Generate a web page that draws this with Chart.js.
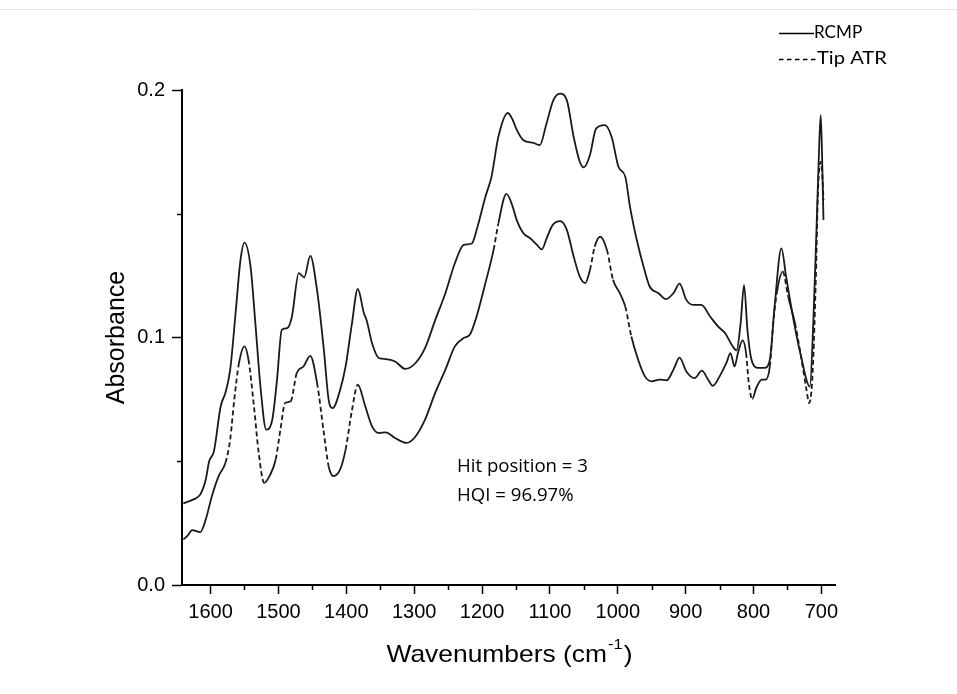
<!DOCTYPE html>
<html>
<head>
<meta charset="utf-8">
<script src="https://cdn.jsdelivr.net/npm/chart.js@4/dist/chart.umd.min.js"></script>
<style>
  html, body { margin: 0; padding: 0; background: #ffffff; }
  #c { display: block; }
</style>
</head>
<body>
<canvas id="c" width="957" height="694" style="width:957px;height:694px"></canvas>
<script>
// ---- DATA ----
const rcmpWavenumbers = [1640,1625,1615,1607,1602,1595,1585,1578,1571,1563,1556,1550,1541,1534,1526,1518,1509,1502,1495,1487,1480,1470,1462,1453,1443,1433,1426,1420,1409,1401,1392,1383,1374,1370,1362,1352,1342,1328,1313,1298,1284,1269,1254,1240,1227,1215,1208,1195,1186,1176,1162,1155,1149,1139,1124,1115,1105,1095,1085,1075,1065,1056,1050,1041,1032,1019,1009,999,989,982,972,962,953,940,929,918,909,899,889,877,864,852,842,832,825,819,814,809,803,793,784,776,769,759,752,742,730,717,712,707,703,701,699,697];
const rcmpAbsorbance = [0.0330,0.0346,0.0366,0.0426,0.0500,0.0540,0.0722,0.0777,0.0870,0.1100,0.1310,0.1383,0.1286,0.1060,0.0789,0.0628,0.0668,0.0830,0.1031,0.1038,0.1085,0.1260,0.1243,0.1330,0.1190,0.0950,0.0749,0.0715,0.0789,0.0883,0.1050,0.1196,0.1098,0.1070,0.0977,0.0917,0.0913,0.0903,0.0873,0.0897,0.0957,0.1070,0.1179,0.1300,0.1374,0.1380,0.1434,0.1569,0.1650,0.1810,0.1907,0.1880,0.1840,0.1797,0.1786,0.1777,0.1865,0.1958,0.1985,0.1958,0.1810,0.1710,0.1687,0.1737,0.1844,0.1858,0.1810,0.1690,0.1650,0.1528,0.1394,0.1286,0.1206,0.1179,0.1155,0.1179,0.1218,0.1152,0.1132,0.1132,0.1085,0.1044,0.1018,0.0970,0.0948,0.1058,0.1212,0.1031,0.0910,0.0877,0.0877,0.0910,0.1125,0.1360,0.1246,0.1085,0.0923,0.0802,0.1058,0.1460,0.1797,0.1898,0.1730,0.1475];

const tipWavenumbers = [1640,1634,1627,1615,1607,1598,1588,1578,1571,1565,1558,1550,1544,1536,1529,1521,1512,1504,1497,1490,1482,1473,1463,1453,1443,1433,1426,1419,1409,1401,1392,1383,1372,1362,1352,1342,1328,1311,1298,1284,1269,1254,1240,1227,1218,1208,1195,1183,1176,1164,1155,1149,1139,1129,1119,1112,1104,1096,1085,1075,1065,1056,1048,1041,1034,1026,1016,1007,997,989,980,970,960,950,938,928,918,909,899,887,876,867,860,850,840,834,828,823,816,811,807,802,796,788,782,776,771,765,757,749,739,730,722,718,713,708,705,701,698,697];
const tipAbsorbance = [0.0184,0.0198,0.0222,0.0214,0.0265,0.0359,0.0440,0.0494,0.0588,0.0749,0.0897,0.0964,0.0910,0.0722,0.0534,0.0413,0.0446,0.0507,0.0628,0.0735,0.0742,0.0856,0.0883,0.0926,0.0816,0.0614,0.0480,0.0440,0.0467,0.0547,0.0700,0.0809,0.0722,0.0641,0.0614,0.0617,0.0594,0.0574,0.0600,0.0668,0.0776,0.0870,0.0964,0.0998,0.1011,0.1085,0.1220,0.1354,0.1460,0.1580,0.1530,0.1475,0.1421,0.1401,0.1374,0.1356,0.1407,0.1454,0.1470,0.1434,0.1327,0.1246,0.1220,0.1273,0.1367,0.1407,0.1354,0.1233,0.1179,0.1125,0.1004,0.0910,0.0843,0.0823,0.0830,0.0827,0.0870,0.0919,0.0863,0.0836,0.0866,0.0830,0.0805,0.0843,0.0897,0.0937,0.0883,0.0937,0.0988,0.0937,0.0816,0.0752,0.0796,0.0830,0.0830,0.0883,0.1058,0.1192,0.1266,0.1165,0.1058,0.0923,0.0789,0.0735,0.0856,0.1260,0.1596,0.1710,0.1623,0.1555];

const xTickValues = [1600,1500,1400,1300,1200,1100,1000,900,800,700];
const xMinorTicks = [1550,1450,1350,1250,1150,1050,950,850,750];
const yTickValues = [0.0,0.1,0.2];
const yMinorTicks = [0.05,0.15];
const seriesNames = ['RCMP','Tip ATR'];
const annotationLines = ['Hit position = 3','HQI = 96.97%'];

// ---- CHART ----
const LINE = '#1a1a1a';
const toPoints = (xs, ys) => xs.map((x, i) => ({ x: x, y: ys[i] }));

const decor = {
  id: 'decor',
  beforeDraw(chart) {
    const c = chart.ctx;
    c.save();
    c.fillStyle = '#ffffff';
    c.fillRect(0, 0, chart.width, chart.height);
    c.strokeStyle = '#e4e4e4';
    c.lineWidth = 1;
    c.beginPath(); c.moveTo(0, 9.5); c.lineTo(chart.width, 9.5); c.stroke();
    c.restore();
  },
  afterDraw(chart) {
    const c = chart.ctx;
    const xs = chart.scales.x, ys = chart.scales.y;
    c.save();
    c.strokeStyle = '#000'; c.lineWidth = 1.5;
    yMinorTicks.forEach(v => {
      const py = Math.round(ys.getPixelForValue(v)) + 0.5;
      c.beginPath(); c.moveTo(xs.left - 5, py); c.lineTo(xs.left, py); c.stroke();
    });
    xMinorTicks.forEach(v => {
      const px = Math.round(xs.getPixelForValue(v)) + 0.5;
      c.beginPath(); c.moveTo(px, ys.bottom); c.lineTo(px, ys.bottom + 5); c.stroke();
    });

    function stretchedText(txt, x, y, font, sx) {
      c.save();
      c.font = font;
      c.textBaseline = 'middle';
      c.textAlign = 'left';
      const w = c.measureText(txt).width * sx;
      c.translate(x, y);
      c.scale(sx, 1);
      c.fillText(txt, 0, 0);
      c.restore();
      return w;
    }
    c.fillStyle = '#000';
    // x axis title with superscript
    {
      const sx = 1.1;
      const cx = (xs.left + xs.right) / 2;
      const cy = 655;
      const mainFont = '24px "Liberation Sans", Arial, sans-serif';
      const supFont = '15px "Liberation Sans", Arial, sans-serif';
      c.font = mainFont;
      const w1 = c.measureText('Wavenumbers (cm').width * sx;
      c.font = supFont;
      const w2 = c.measureText('-1').width * sx;
      c.font = mainFont;
      const w3 = c.measureText(')').width * sx;
      const x0 = cx - (w1 + w2 + w3) / 2;
      stretchedText('Wavenumbers (cm', x0, cy, mainFont, sx);
      stretchedText('-1', x0 + w1 + 1, cy - 10, supFont, sx);
      stretchedText(')', x0 + w1 + w2 + 2, cy, mainFont, sx);
    }
    // legend: line samples followed by names
    c.strokeStyle = '#000'; c.lineWidth = 1.3;
    c.beginPath(); c.moveTo(779, 33.5); c.lineTo(814, 33.5); c.stroke();
    c.setLineDash([4.5, 3.5]);
    c.beginPath(); c.moveTo(779, 59.5); c.lineTo(817, 59.5); c.stroke();
    c.setLineDash([]);
    const legFont = '18px Lato, "Open Sans", sans-serif';
    stretchedText(seriesNames[0], 814, 32, legFont, 0.95);
    stretchedText(seriesNames[1], 817, 58, legFont, 1.12);
    // annotation
    const annFont = '19px "Open Sans", sans-serif';
    stretchedText(annotationLines[0], 457, 467, annFont, 0.98);
    stretchedText(annotationLines[1], 457, 496, annFont, 0.98);
    c.restore();
  }
};

const steepDash = ctx => {
  const dx = Math.abs(ctx.p1.x - ctx.p0.x), dy = Math.abs(ctx.p1.y - ctx.p0.y);
  return dy > 4.3 * dx ? [5, 3] : undefined;
};

new Chart(document.getElementById('c'), {
  type: 'line',
  data: {
    datasets: [
      {
        label: seriesNames[0],
        data: toPoints(rcmpWavenumbers, rcmpAbsorbance),
        borderColor: LINE, borderWidth: 1.8, pointRadius: 0, fill: false,
        cubicInterpolationMode: 'monotone'
      },
      {
        label: seriesNames[1],
        data: toPoints(tipWavenumbers, tipAbsorbance),
        borderColor: LINE, borderWidth: 1.8, pointRadius: 0, fill: false,
        cubicInterpolationMode: 'monotone',
        segment: { borderDash: steepDash }
      }
    ]
  },
  options: {
    responsive: false,
    animation: false,
    devicePixelRatio: 1,
    layout: { padding: { left: 0, right: 122, top: 90, bottom: 0 } },
    plugins: { legend: { display: false }, tooltip: { enabled: false }, title: { display: false } },
    scales: {
      x: {
        type: 'linear', reverse: true, min: 680, max: 1642,
        afterBuildTicks: s => { s.ticks = xTickValues.map(v => ({ value: v })); },
        afterFit: s => { s.height = 109; },
        grid: { drawOnChartArea: false, drawTicks: true, tickLength: 9, tickColor: '#000', tickWidth: 1.5 },
        border: { display: true, color: '#000', width: 2 },
        ticks: { color: '#000', font: { family: '"Liberation Sans", Arial, sans-serif', size: 20 }, padding: 6, maxRotation: 0, autoSkip: false, callback: v => String(v) }
      },
      y: {
        type: 'linear', min: 0, max: 0.2,
        afterBuildTicks: s => { s.ticks = yTickValues.map(v => ({ value: v })); },
        afterFit: s => { s.width = 182; },
        grid: { drawOnChartArea: false, drawTicks: true, tickLength: 10, tickColor: '#000', tickWidth: 1.5 },
        border: { display: true, color: '#000', width: 2 },
        ticks: { color: '#000', font: { family: '"Liberation Sans", Arial, sans-serif', size: 20 }, padding: 7, callback: v => v.toFixed(1) },
        title: { display: true, text: 'Absorbance', color: '#000', font: { family: '"Liberation Sans", Arial, sans-serif', size: 25 }, padding: { top: 102, bottom: 0 } }
      }
    }
  },
  plugins: [decor]
});
</script>
</body>
</html>
